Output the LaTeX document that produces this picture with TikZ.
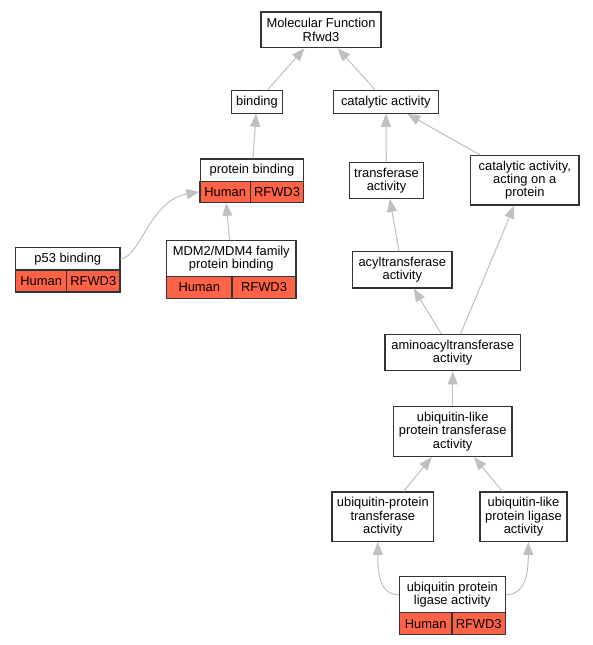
\documentclass[tikz,border=0pt]{standalone}
\usepackage{fontspec}
\setmainfont{Liberation Sans}
\usetikzlibrary{
    arrows.meta,
    calc
}
\definecolor{genered}{RGB}{255, 99, 71}
\definecolor{edgegray}{RGB}{192, 192, 192}

\begin{document}
\begin{tikzpicture}[
        x=1pt, y=-1pt,
        term/.style={rectangle, draw=black!80, line width=1.2pt, fill=white, inner sep=0pt, align=center, font=\fontsize{12.9}{13.2}\selectfont},
        cell/.style={term, fill=genered},
        arrow/.style={-{Triangle[length=13pt, width=10pt]}, draw=edgegray, line width=1pt}
    ]
        \fill[white] (0,0) rectangle (593,645);
        \useasboundingbox (0,0) rectangle (593,645);

        % Row 1: root
        \node[term, minimum width=120pt, minimum height=35.7pt] (mf) at (321,29.8) {Molecular Function\\Rfwd3};

        % Row 2
        \node[term, minimum width=50.5pt, minimum height=23pt] (bind) at (257,101.7) {binding};
        \node[term, minimum width=105pt, minimum height=23pt] (cat) at (385.8,101.7) {catalytic activity};

        % Row 3
        \node[term, minimum width=103.7pt, minimum height=22.7pt] (pbind) at (252,170.4) {protein binding};
        \node[cell, minimum width=50.3pt, minimum height=20.6pt] (pbindH) at (225.2,192) {Human};
        \node[cell, minimum width=53.4pt, minimum height=20.6pt] (pbindG) at (277,192) {RFWD3};
        \node[term, minimum width=74.4pt, minimum height=36pt] (trans) at (386.5,180.3) {transferase\\activity};
        \node[term, minimum width=108.3pt, minimum height=49.3pt] (catprot) at (524.8,180.3) {catalytic activity,\\acting on a\\protein};

        % Row 4
        \node[term, minimum width=104.3pt, minimum height=22.3pt] (p53) at (67.8,258.8) {p53 binding};
        \node[cell, minimum width=51pt, minimum height=22pt] (p53H) at (41.2,281) {Human};
        \node[cell, minimum width=53.3pt, minimum height=22pt] (p53G) at (93.3,281) {RFWD3};
        \node[term, minimum width=129.3pt, minimum height=36pt] (mdm) at (231.3,258.7) {MDM2/MDM4 family\\protein binding};
        \node[cell, minimum width=65.3pt, minimum height=21.7pt] (mdmH) at (199.3,287.5) {Human};
        \node[cell, minimum width=64pt, minimum height=21.7pt] (mdmG) at (264,287.5) {RFWD3};
        \node[term, minimum width=99.3pt, minimum height=36.3pt] (acyl) at (402.3,269.8) {acyltransferase\\activity};

        % Rows 5-8: ubiquitin branch
        \node[term, minimum width=135.3pt, minimum height=36pt] (amino) at (452.7,352.7) {aminoacyltransferase\\activity};
        \node[term, minimum width=118.7pt, minimum height=50pt] (ubltr) at (452.7,431.5) {ubiquitin-like\\protein transferase\\activity};
        \node[term, minimum width=101.7pt, minimum height=49.3pt] (ubptr) at (382.8,516.7) {ubiquitin-protein\\transferase\\activity};
        \node[term, minimum width=87pt, minimum height=49.3pt] (ublig) at (523.5,516.7) {ubiquitin-like\\protein ligase\\activity};
        \node[term, minimum width=106pt, minimum height=36pt] (upl) at (452.3,594.7) {ubiquitin protein\\ligase activity};
        \node[cell, minimum width=52.7pt, minimum height=22pt] (uplH) at (425.7,623.7) {Human};
        \node[cell, minimum width=53.3pt, minimum height=22pt] (uplG) at (478.7,623.7) {RFWD3};

        % Arrows
        \draw[arrow] (bind) -- (mf);
        \draw[arrow] (cat) -- (mf);
        \draw[arrow] (pbind) -- (bind);
        \draw[arrow] (trans) -- (cat);
        \draw[arrow] (catprot) -- (cat);
        \draw[arrow] (p53.east) .. controls (140,258) and (150,200) .. (pbindH.west);
        \draw[arrow] (mdm) -- (pbindH);
        \draw[arrow] (acyl) -- (trans);
        \draw[arrow] (amino) -- (acyl);
        \draw[arrow] (amino) -- (catprot);
        \draw[arrow] (ubltr) -- (amino);
        \draw[arrow] (ubptr) -- (ubltr);
        \draw[arrow] (ublig) -- (ubltr);
        \draw[arrow] (upl.west) .. controls (379,594.7) and (377.8,572) .. ($(ubptr.south)+(-5,0)$);
        \draw[arrow] (upl.east) .. controls (526,594.7) and (528.3,572) .. ($(ublig.south)+(4.8,0)$);
    \end{tikzpicture}
\end{document}
